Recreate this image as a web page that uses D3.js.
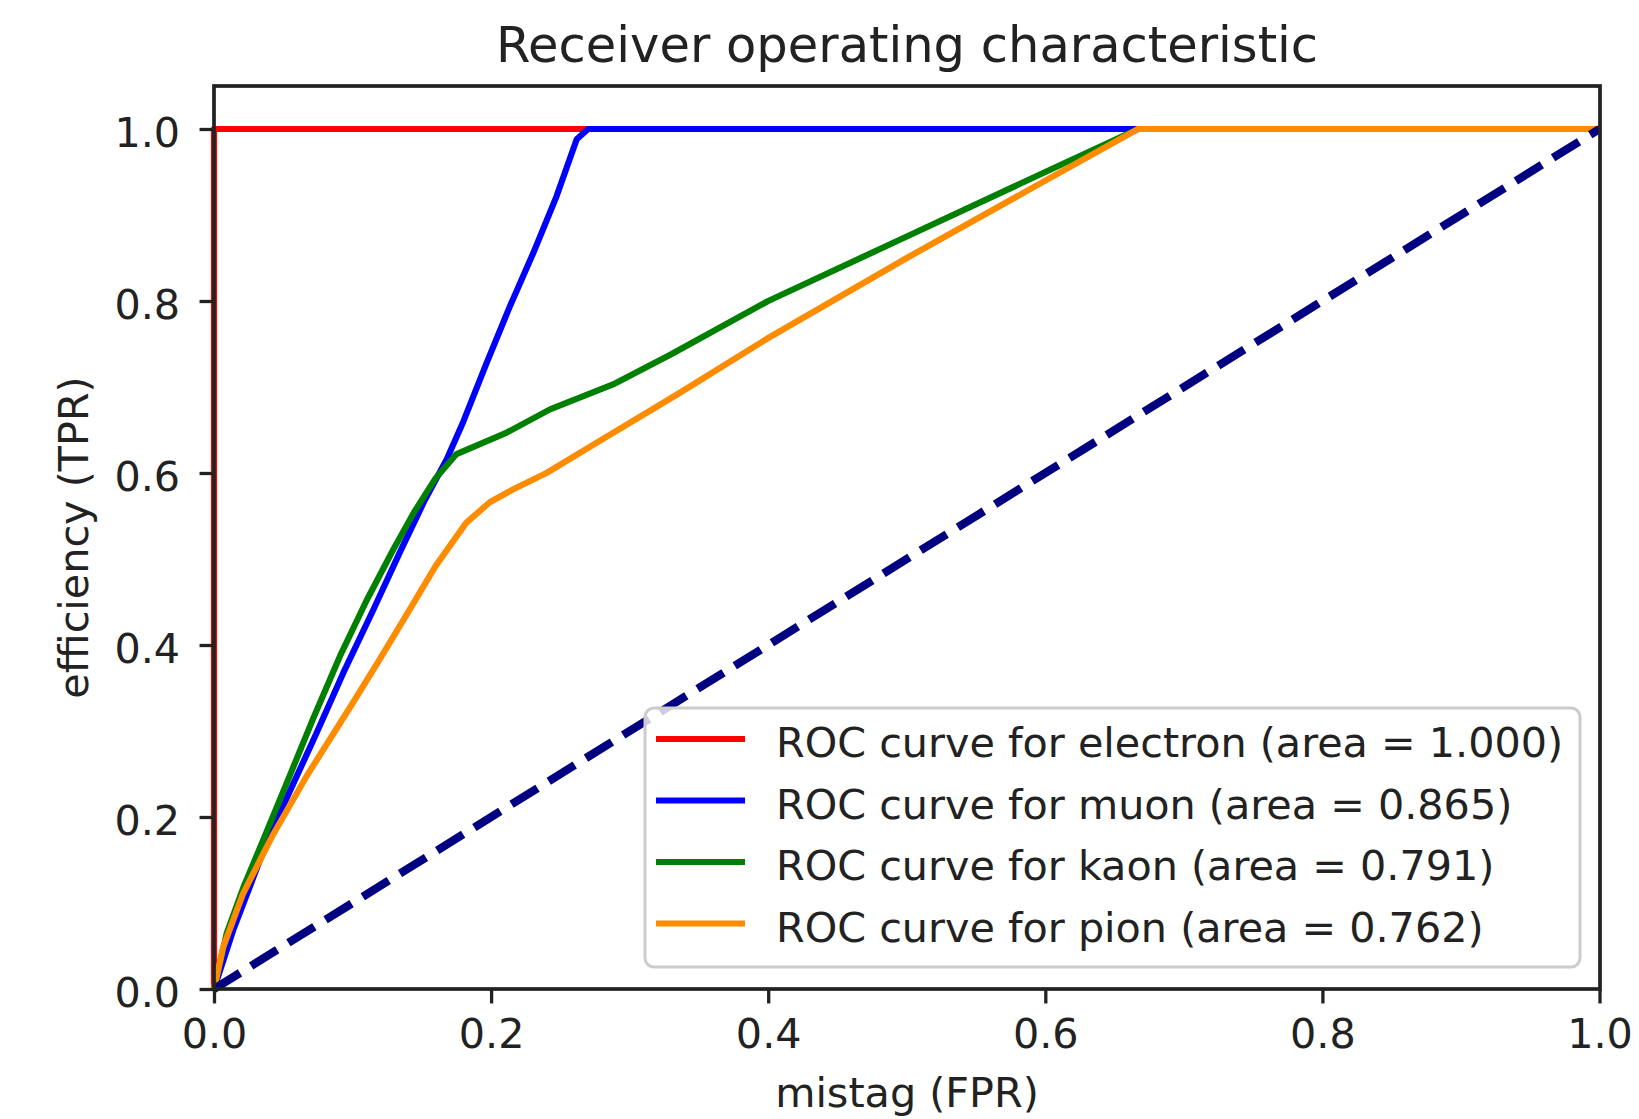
<!DOCTYPE html>
<html>
<head>
<meta charset="utf-8">
<script src="https://cdn.jsdelivr.net/npm/d3@7/dist/d3.min.js"></script>
<style>
  html, body { margin: 0; padding: 0; background: #fff; }
  svg { display: block; }
  text { font-family: "DejaVu Sans", sans-serif; fill: #222; }
</style>
</head>
<body>
<svg id="chart" width="1639" height="1119"></svg>
<script>
// ROC curves (false positive rate vs true positive rate) per particle class
const electronFPR = [0, 0, 1];
const electronTPR = [0, 1, 1];

const muonFPR = [0, 0.0139, 0.0332, 0.0525, 0.0741, 0.0933, 0.115, 0.1342, 0.152, 0.168, 0.180, 0.1968, 0.2136, 0.2305, 0.2473, 0.2618, 0.270, 1];
const muonTPR = [0, 0.0687, 0.150, 0.222, 0.298, 0.3675, 0.441, 0.508, 0.568, 0.616, 0.660, 0.728, 0.794, 0.856, 0.922, 0.988, 1.0, 1];

const kaonFPR = [0, 0.0092, 0.0212, 0.038, 0.0549, 0.0717, 0.0909, 0.1102, 0.1294, 0.145, 0.160, 0.175, 0.2113, 0.2425, 0.288, 0.33, 0.4, 0.5, 0.6, 0.667, 1];
const kaonTPR = [0, 0.065, 0.118, 0.183, 0.249, 0.315, 0.387, 0.452, 0.511, 0.556, 0.594, 0.622, 0.647, 0.674, 0.703, 0.738, 0.800, 0.875, 0.950, 1.0, 1];

const pionFPR = [0, 0.0067, 0.021, 0.0428, 0.067, 0.098, 0.1198, 0.1438, 0.160, 0.182, 0.199, 0.216, 0.240, 0.276, 0.336, 0.4, 0.5, 0.6, 0.667, 1];
const pionTPR = [0, 0.049, 0.111, 0.180, 0.248, 0.327, 0.384, 0.448, 0.492, 0.542, 0.566, 0.581, 0.600, 0.635, 0.693, 0.757, 0.850, 0.940, 1.0, 1];

// chance line
const chanceFPR = [0, 1];
const chanceTPR = [0, 1];

const classNames = ["electron", "muon", "kaon", "pion"];
const classAreas = [1.000, 0.865, 0.791, 0.762];
const classColors = ["red", "blue", "green", "darkorange"];

const xTicks = [0, 0.2, 0.4, 0.6, 0.8, 1.0];
const yTicks = [0, 0.2, 0.4, 0.6, 0.8, 1.0];

const titleText = "Receiver operating characteristic";
const xLabel = "mistag (FPR)";
const yLabel = "efficiency (TPR)";

// ---- layout ----
const pt = 4.13;                 // pixels per point
const fs = 10 * pt;              // tick / label / legend font size
const plot = { left: 214, right: 1600, top: 86, bottom: 989 };

const svg = d3.select("#chart");
const x = d3.scaleLinear().domain([0, 1]).range([plot.left, plot.right - 0.5]);
const y = d3.scaleLinear().domain([0, 1.05]).range([plot.bottom, plot.top]);

const curves = [
  { fpr: electronFPR, tpr: electronTPR },
  { fpr: muonFPR, tpr: muonTPR },
  { fpr: kaonFPR, tpr: kaonTPR },
  { fpr: pionFPR, tpr: pionTPR }
];

const line = d3.line().x(d => x(d[0])).y(d => y(d[1]));

svg.append("defs").append("clipPath").attr("id", "plotclip")
  .append("rect")
  .attr("x", plot.left - 4).attr("y", plot.top)
  .attr("width", plot.right - plot.left + 8).attr("height", plot.bottom - plot.top + 4);

const lines = svg.append("g").attr("clip-path", "url(#plotclip)");

curves.forEach((c, i) => {
  lines.append("path")
    .attr("d", line(d3.zip(c.fpr, c.tpr)))
    .attr("fill", "none")
    .attr("stroke", classColors[i])
    .attr("stroke-width", 1.5 * pt)
    .attr("stroke-linejoin", "round")
    .attr("stroke-linecap", "butt");
});

lines.append("path")
  .attr("d", line(d3.zip(chanceFPR, chanceTPR)))
  .attr("fill", "none")
  .attr("stroke", "navy")
  .attr("stroke-width", 2 * pt)
  .attr("stroke-dasharray", `${7.4 * pt} ${3.2 * pt}`);

// ---- axes ----
const xAxis = d3.axisBottom(x).tickValues(xTicks).tickFormat(d3.format(".1f"))
  .tickSizeInner(3.5 * pt).tickSizeOuter(0).tickPadding(3.5 * pt);
const yAxis = d3.axisLeft(y).tickValues(yTicks).tickFormat(d3.format(".1f"))
  .tickSizeInner(3.5 * pt).tickSizeOuter(0).tickPadding(3.5 * pt);

const gx = svg.append("g").attr("transform", `translate(0,${plot.bottom})`).call(xAxis);
const gy = svg.append("g").attr("transform", `translate(${plot.left},0)`).call(yAxis);

[gx, gy].forEach(g => {
  g.select(".domain").remove();
  g.selectAll(".tick line").attr("stroke", "#222").attr("stroke-width", 0.8 * pt);
  g.selectAll(".tick text")
    .attr("font-size", fs)
    .attr("font-family", "DejaVu Sans")
    .attr("fill", "#222");
});
gx.selectAll(".tick text").attr("dy", null).attr("y", 3.5 * pt + 3.5 * pt + 0.76 * fs - 1);
gy.selectAll(".tick text").attr("dy", null).attr("x", -(3.5 * pt + 3.5 * pt + 5)).attr("y", 17);

// spines (drawn over the curves)
svg.append("rect")
  .attr("x", plot.left).attr("y", plot.top)
  .attr("width", plot.right - plot.left).attr("height", plot.bottom - plot.top)
  .attr("fill", "none").attr("stroke", "#222").attr("stroke-width", 0.9 * pt);

// ---- legend ----
const lg = {
  left: 645, right: 1580, top: 708, bottom: 967,
  rowY: [742, 803.5, 865, 926.5],
  handleX0: 656, handleX1: 745, textX: 776
};
const legend = svg.append("g");
legend.append("rect")
  .attr("x", lg.left).attr("y", lg.top)
  .attr("width", lg.right - lg.left).attr("height", lg.bottom - lg.top)
  .attr("rx", 9).attr("ry", 9)
  .attr("fill", "white").attr("fill-opacity", 0.8)
  .attr("stroke", "#cccccc").attr("stroke-width", 3);

classNames.forEach((name, i) => {
  const cy = lg.rowY[i];
  legend.append("line")
    .attr("x1", lg.handleX0).attr("x2", lg.handleX1)
    .attr("y1", cy - 3).attr("y2", cy - 3)
    .attr("stroke", classColors[i]).attr("stroke-width", 1.5 * pt);
  legend.append("text")
    .attr("x", lg.textX).attr("y", cy + 15)
    .attr("font-size", fs)
    .text(`ROC curve for ${name} (area = ${classAreas[i].toFixed(3)})`);
});

// ---- titles ----
svg.append("text")
  .attr("x", (plot.left + plot.right) / 2).attr("y", 62)
  .attr("text-anchor", "middle")
  .attr("font-size", 12 * pt)
  .text(titleText);

svg.append("text")
  .attr("x", (plot.left + plot.right) / 2).attr("y", 1107)
  .attr("text-anchor", "middle")
  .attr("font-size", fs)
  .text(xLabel);

svg.append("text")
  .attr("transform", `translate(88,${(plot.top + plot.bottom) / 2}) rotate(-90)`)
  .attr("text-anchor", "middle")
  .attr("font-size", fs)
  .text(yLabel);
</script>
</body>
</html>
